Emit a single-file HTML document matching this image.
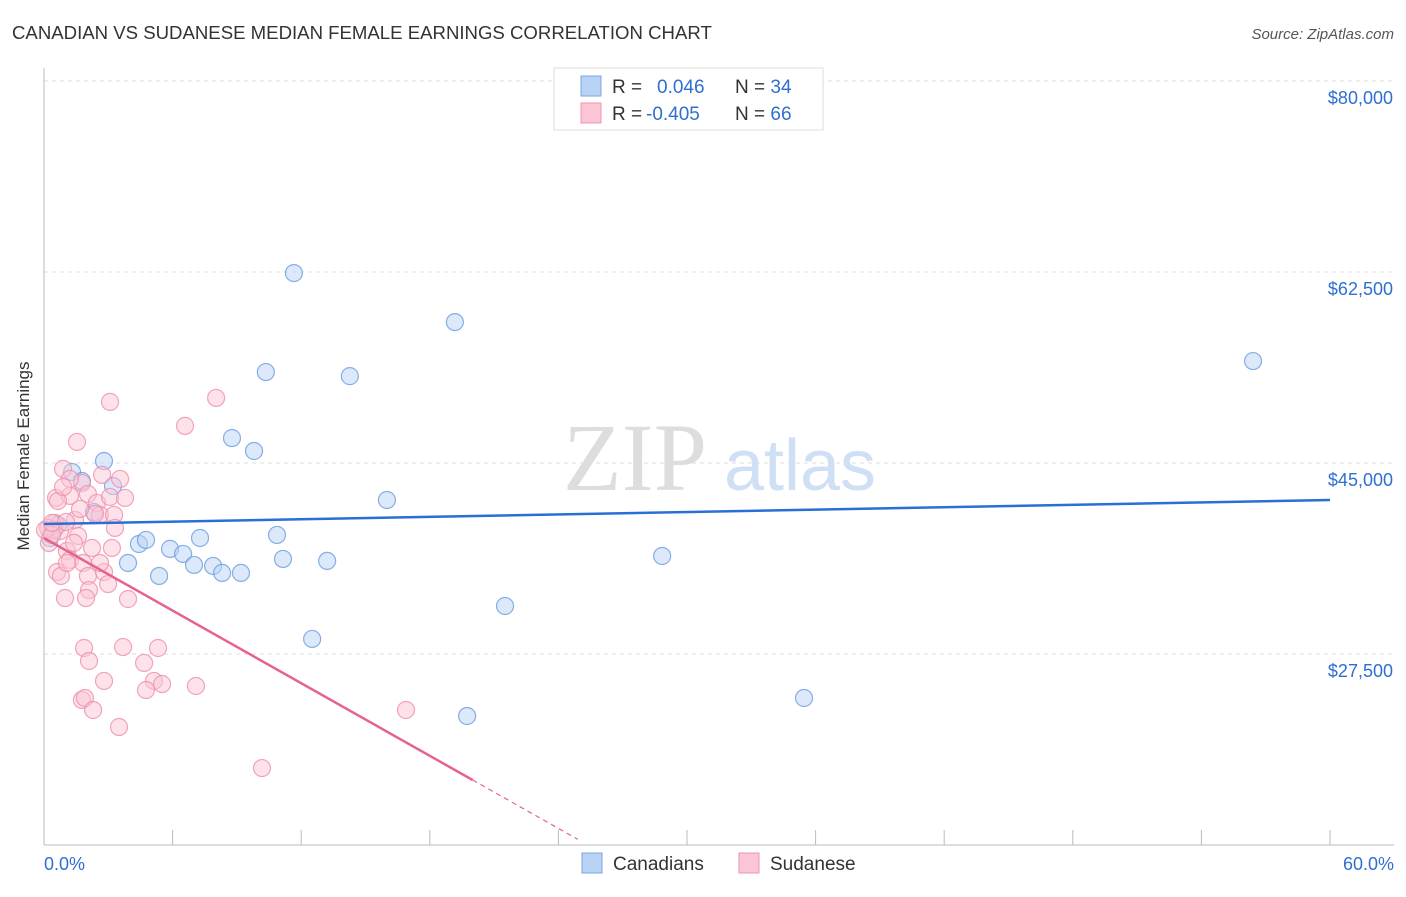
<!DOCTYPE html>
<html><head><meta charset="utf-8"><style>
body{margin:0;background:#fff;font-family:"Liberation Sans",sans-serif}
</style></head><body>
<svg id="c" width="1406" height="892" xmlns="http://www.w3.org/2000/svg">
<text x="12" y="39" font-size="18.6" fill="#333">CANADIAN VS SUDANESE MEDIAN FEMALE EARNINGS CORRELATION CHART</text>
<text x="1394" y="39" font-size="15" fill="#555" font-style="italic" text-anchor="end">Source: ZipAtlas.com</text>
<text x="29" y="456" font-size="17" fill="#333" text-anchor="middle" transform="rotate(-90 29 456)">Median Female Earnings</text>
<text x="635" y="490" font-size="96" fill="#ddd" font-family="Liberation Serif,serif" text-anchor="middle">ZIP</text>
<text x="800" y="490" font-size="72" fill="#cfe0f5" text-anchor="middle">atlas</text>
<g id="grid"></g><g id="marks"></g>
<g>
<rect x="554" y="68" width="269" height="62" fill="#fff" stroke="#ddd"/>
<rect x="581" y="76" width="20" height="20" fill="#b8d3f5" stroke="#7aa6e0"/>
<rect x="581" y="103" width="20" height="20" fill="#fbc5d5" stroke="#ee96b2"/>
<text x="612" y="93" font-size="19" fill="#333">R = <tspan fill="#2f6fd1" x="657">0.046</tspan><tspan fill="#333" x="735">N = </tspan><tspan fill="#2f6fd1">34</tspan></text>
<text x="612" y="120" font-size="19" fill="#333">R = <tspan fill="#2f6fd1" x="646">-0.405</tspan><tspan fill="#333" x="735">N = </tspan><tspan fill="#2f6fd1">66</tspan></text>
</g>
<g>
<rect x="582" y="853" width="20" height="20" fill="#b8d3f5" stroke="#7aa6e0"/>
<text x="613" y="870" font-size="19" fill="#333">Canadians</text>
<rect x="739" y="853" width="20" height="20" fill="#fbc5d5" stroke="#ee96b2"/>
<text x="770" y="870" font-size="19" fill="#333">Sudanese</text>
</g>
</svg>
<script>
const yTicks=[27500,45000,62500,80000];
const yTickLabels=["$27,500","$45,000","$62,500","$80,000"];
const xTickLabels=["0.0%","60.0%"];
const canX=[11.66,19.17,10.35,14.27,56.41,8.77,9.80,2.80,1.31,1.77,3.22,16.0,2.33,0.28,4.43,4.76,5.88,6.49,7.28,3.92,5.37,7.0,7.89,8.31,9.19,10.87,11.15,13.21,28.84,21.51,12.51,19.74,35.46,0.65];
const canY=[62400,57910,53330,52960,54340,47290,46100,45180,44170,43350,42890,41610,40510,38130,37580,37950,37130,36670,38130,35840,34650,35660,35570,34930,34930,38410,36210,36030,36480,31900,28880,21820,23470,39320];
const sudX=[3.08,8.03,6.58,1.54,0.89,2.71,1.77,0.56,1.21,2.05,2.47,3.08,0.51,1.45,2.61,3.27,3.31,0.19,0.75,1.59,1.07,1.21,1.82,0.61,0.79,2.05,2.8,2.1,0.98,3.92,0.23,0.47,1.40,1.07,1.96,1.87,3.69,5.32,2.1,4.67,2.8,5.13,5.51,1.77,1.91,4.76,7.09,2.29,16.89,3.5,10.17,0.65,0.05,0.37,2.38,3.78,3.55,1.21,2.61,0.89,0.37,2.24,3.17,1.03,1.68,2.99];
const sudY=[50600,50960,48400,46930,44460,43910,43170,41800,41980,42160,41340,41890,39510,39780,40240,40240,39050,39050,38770,38310,36940,36120,35840,35010,34650,34650,35010,33360,32630,32540,37680,38860,37680,35840,32630,28050,28140,28050,26860,26680,25030,25030,24750,23290,23470,24200,24570,22370,22370,20810,17050,41520,38860,38410,40330,41800,43540,43540,35840,42800,39510,37220,37220,39600,40790,33910];
const NS="http://www.w3.org/2000/svg";
const X=v=>44+v/60*1286, Y=v=>845-(v-10000)*191/17500;
const grid=document.getElementById('grid'), marks=document.getElementById('marks');
function mk(p,tag,a){const e=document.createElementNS(NS,tag);for(const k in a)e.setAttribute(k,a[k]);p.appendChild(e);return e;}
yTicks.forEach((t,i)=>{
 const l=mk(grid,'line',{x1:44,x2:1394,y1:Y(t),y2:Y(t),stroke:'#ddd','stroke-dasharray':'4 4'});
 
 
 const tx=mk(grid,'text',{x:1393,y:Y(t)+23,'font-size':18,fill:'#2f6fd1','text-anchor':'end'});tx.textContent=yTickLabels[i];
 
 
});
mk(grid,'line',{x1:44,x2:44,y1:68,y2:845,stroke:'#bbb'});
mk(grid,'line',{x1:44,x2:1394,y1:845,y2:845,stroke:'#bbb'});
for(let i=0;i<=10;i++){const t=mk(grid,'line',{x1:X(i*6),x2:X(i*6),y1:830,y2:845,stroke:'#bbb'});
 
 }
[[0,xTickLabels[0],'start',44],[60,xTickLabels[1],'end',1394]].forEach(a=>{const t=mk(grid,'text',{x:a[3],y:870,'font-size':18,fill:'#2f6fd1','text-anchor':a[2]});t.textContent=a[1];
 
 });
function pts(xs,ys,f,s,n){xs.forEach((x,i)=>{const c=mk(marks,'circle',{cx:X(x),cy:Y(ys[i]),r:8.5,fill:f,'fill-opacity':0.5,stroke:s,'stroke-width':1.2,'stroke-opacity':0.8});
 
 });}
pts(canX,canY,'#b8d3f5','#6c9be0','point-canadian');
pts(sudX,sudY,'#fbc5d5','#ee8fad','point-sudanese');
const blueLine=[39410,41610], pinkLine=[38128,15955], pinkEnd=[20,24.9];
let l=mk(marks,'line',{x1:X(0),y1:Y(blueLine[0]),x2:X(60),y2:Y(blueLine[1]),stroke:'#2a6fd6','stroke-width':2.5});


l=mk(marks,'line',{x1:X(0),y1:Y(pinkLine[0]),x2:X(pinkEnd[0]),y2:Y(pinkLine[1]),stroke:'#e6638f','stroke-width':2.5});


const slope=(pinkLine[1]-pinkLine[0])/pinkEnd[0];
l=mk(marks,'line',{x1:X(pinkEnd[0]),y1:Y(pinkLine[1]),x2:X(pinkEnd[1]),y2:Y(pinkLine[0]+slope*pinkEnd[1]),stroke:'#e6638f','stroke-width':1.2,'stroke-dasharray':'5 4'});


</script>
</body></html>
